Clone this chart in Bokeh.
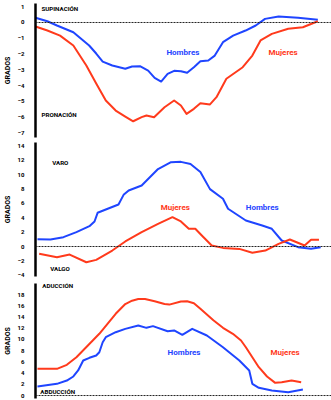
from bokeh.plotting import figure
from bokeh.layouts import column
from bokeh.models import Span, Label, Range1d, FixedTicker
from bokeh.embed import file_html
from bokeh.resources import INLINE

BLUE = "#1f45ff"
RED = "#ff3a1c"
FONT = "Roboto"
BASELINE = 0

# ---------- Panel 1: supinación / pronación ----------
ticks1 = [1, 0, -1, -2, -3, -4, -5, -6, -7]
x1_h = [0, 4.2, 7.6, 13.4, 19.0, 21.5, 23.8, 27.2, 31.8, 34.2, 37.0, 39.9, 42.2, 44.5, 46.8,
        49.1, 51.5, 53.7, 56.1, 58.4, 61.2, 63.5, 66.4, 70.0, 74.4, 78.0, 81.3, 86.1, 93.0, 100]
y1_h = [0.30, 0.08, -0.19, -0.62, -1.46, -1.97, -2.48, -2.73, -2.94, -2.79, -2.77, -3.05, -3.51,
        -3.75, -3.26, -3.07, -3.09, -3.19, -2.84, -2.46, -2.41, -2.1, -1.25, -0.83, -0.51, -0.19,
        0.23, 0.38, 0.30, 0.17]
x1_m = [0, 4.2, 8.7, 13.4, 18.0, 21.5, 24.9, 28.4, 31.8, 34.6, 37.6, 39.3, 42.0, 45.7, 49.1,
        51.5, 53.5, 56.1, 58.4, 61.8, 64.1, 67.6, 73.4, 76.8, 79.7, 83.7, 89.5, 94.7, 100]
y1_m = [-0.25, -0.51, -0.83, -1.46, -2.73, -3.87, -4.95, -5.59, -5.97, -6.27, -6.01, -5.9, -6.01,
        -5.38, -4.95, -5.27, -5.8, -5.48, -5.12, -5.2, -4.74, -3.57, -2.84, -2.1, -1.14, -0.72,
        -0.4, -0.3, 0.08]

# ---------- Panel 2: varo / valgo ----------
ticks2 = [14, 12, 10, 8, 6, 4, 2, 0, -2, -4]
x2_h = [0.7, 5.3, 9.9, 14.5, 19.1, 20.9, 22.0, 24.9, 29.4, 31.2, 33.0, 37.6, 43.4, 48.0, 51.5,
        54.9, 58.4, 61.8, 66.4, 68.2, 74.5, 80.3, 83.7, 87.2, 93.0, 97.6, 101.0]
y2_h = [1.02, 0.98, 1.3, 2.0, 2.83, 3.49, 4.7, 5.16, 5.86, 7.2, 7.81, 8.5, 10.8, 11.76, 11.8,
        11.5, 10.4, 8.0, 6.65, 5.26, 3.63, 2.93, 2.47, 0.84, -0.09, -0.32, -0.09]
x2_m = [1.3, 7.6, 12.1, 18.0, 21.5, 27.2, 31.8, 37.6, 43.4, 48.5, 51.5, 54.3, 56.6, 58.9, 62.4,
        66.4, 72.2, 76.8, 81.4, 86.1, 90.1, 95.3, 97.6, 100.4]
y2_m = [-1.02, -1.49, -1.12, -2.19, -1.86, -0.56, 0.7, 2.0, 3.16, 4.09, 3.49, 2.47, 2.47, 1.53,
        0.14, -0.19, -0.33, -0.88, -0.56, 0.37, 0.98, 0.14, 0.93, 0.93]

# ---------- Panel 3: aducción / abducción ----------
ticks3 = [18, 16, 14, 12, 10, 8, 6, 4, 2, 0]
x3_h = [0.7, 7.6, 11.1, 13.4, 15.1, 16.9, 19.1, 21.5, 22.6, 23.8, 24.9, 28.4, 31.8, 36.4, 39.3,
        41.6, 46.8, 49.1, 52.0, 55.5, 60.7, 66.4, 72.2, 75.7, 76.8, 79.1, 83.7, 89.5, 94.7]
y3_h = [1.6, 2.08, 2.67, 3.39, 4.46, 6.24, 6.72, 7.13, 7.72, 9.5, 10.4, 11.28, 11.88, 12.48,
        12.06, 12.36, 11.46, 11.59, 10.81, 11.88, 10.7, 8.6, 6.24, 4.46, 2.08, 1.37, 0.89, 0.59, 1.07]
x3_m = [0.7, 7.6, 11.1, 14.5, 22.6, 28.4, 31.8, 34.2, 36.4, 38.8, 42.2, 45.7, 47.4, 51.5, 53.7,
        56.1, 58.4, 63.0, 66.4, 69.9, 72.8, 74.5, 76.8, 79.1, 82.0, 84.9, 87.2, 90.7, 94.1]
y3_m = [4.75, 4.75, 5.47, 6.83, 11.0, 14.56, 16.3, 16.9, 17.2, 17.2, 16.8, 16.3, 16.2, 16.75,
        16.8, 16.45, 15.45, 13.4, 12.07, 11.0, 9.8, 8.6, 6.83, 5.05, 3.39, 2.26, 2.37, 2.67, 2.37]

series_names = ["Hombres", "Mujeres"]
axis_title = "GRADOS"


def panel(h, bt, bb, yr, ticks, xh, yh, xm, ym, top_txt, bot_txt, name_pos):
    p = figure(width=331, height=h, x_range=Range1d(0, 104.84), y_range=Range1d(*yr),
               output_backend="svg", toolbar_location=None, x_axis_location=None,
               min_border_left=28, min_border_right=0, min_border_top=bt, min_border_bottom=bb)
    p.outline_line_color = None
    p.grid.visible = False
    p.background_fill_color = "white"
    p.border_fill_color = "white"
    ax = p.yaxis[0]
    ax.ticker = FixedTicker(ticks=ticks)
    ax.axis_line_width = 2.5
    ax.axis_line_color = "black"
    ax.major_tick_line_color = None
    ax.minor_tick_line_color = None
    ax.major_label_text_font = FONT
    ax.major_label_text_font_style = "bold"
    ax.major_label_text_font_size = "6px"
    ax.major_label_text_color = "black"
    ax.major_label_standoff = 5
    ax.axis_label = axis_title
    ax.axis_label_text_font = FONT
    ax.axis_label_text_font_style = "bold"
    ax.axis_label_text_font_size = "7px"
    ax.axis_label_text_color = "black"
    ax.axis_label_standoff = 3
    p.add_layout(Span(location=BASELINE, dimension="width", line_color="#222222",
                      line_dash="2 1", line_width=1))
    p.line(xh, yh, color=BLUE, line_width=2, line_join="round")
    p.line(xm, ym, color=RED, line_width=2, line_join="round")
    for (txt, x, y) in (top_txt, bot_txt):
        p.add_layout(Label(x=x, y=y, text=txt, text_font=FONT, text_font_style="bold",
                           text_font_size="6.2px", text_color="black",
                           text_baseline="middle", text_align="left"))
    for name, col, (x, y) in zip(series_names, [BLUE, RED], name_pos):
        p.add_layout(Label(x=x, y=y, text=name, text_font=FONT, text_font_style="bold",
                           text_font_size="8px", text_color=col,
                           text_baseline="middle", text_align="center"))
    return p


p1 = panel(139, 3, 2, (-7.30, 1.206), ticks1, x1_h, y1_h, x1_m, y1_m,
           ("SUPINACIÓN", 2.1, 0.83), ("PRONACIÓN", 2.1, -5.9),
           [(52.2, -1.9), (87.7, -1.9)])
p2 = panel(140, 3, 3, (-4.18, 14.5), ticks2, x2_h, y2_h, x2_m, y2_m,
           ("VARO", 5.9, 11.7), ("VALGO", 5.2, -3.07),
           [(80.3, 5.44), (49.5, 5.44)])
p3 = panel(121, 4, 2, (-0.53, 19.96), ticks3, x3_h, y3_h, x3_m, y3_m,
           ("ADUCCIÓN", 2.4, 19.6), ("ABDUCCIÓN", 1.7, 0.71),
           [(52.6, 7.66), (88.4, 7.66)])

layout = column(p1, p2, p3, spacing=0)
open("out.html", "w").write(file_html(layout, INLINE))
